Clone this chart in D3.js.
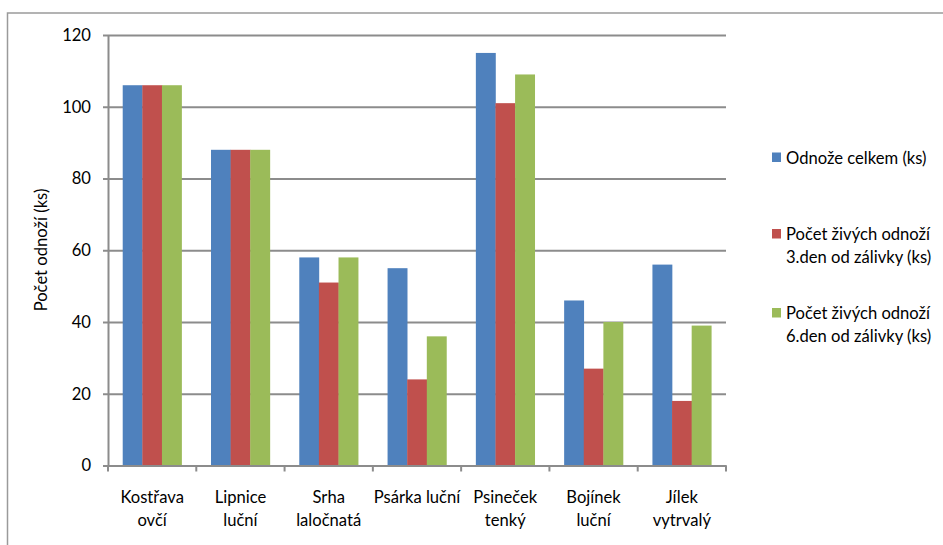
<!DOCTYPE html>
<html>
<head>
<meta charset="utf-8">
<script src="https://cdn.jsdelivr.net/npm/d3@7"></script>
<style>
  html, body { margin: 0; padding: 0; background: #fff; }
  svg { display: block; font-family: Lato, "Open Sans", sans-serif; }
</style>
</head>
<body>
<svg id="chart" width="943" height="545"></svg>
<script>
// ---- data ----
const categories = [
  ["Kostřava", "ovčí"],
  ["Lipnice", "luční"],
  ["Srha", "laločnatá"],
  ["Psárka luční"],
  ["Psineček", "tenký"],
  ["Bojínek", "luční"],
  ["Jílek", "vytrvalý"]
];
const seriesNames = [
  ["Odnože celkem (ks)"],
  ["Počet živých odnoží", "3.den od zálivky (ks)"],
  ["Počet živých odnoží", "6.den od zálivky (ks)"]
];
const odnozeCelkem = [106, 88, 58, 55, 115, 46, 56];
const zive3den     = [106, 88, 51, 24, 101, 27, 18];
const zive6den     = [106, 88, 58, 36, 109, 40, 39];
const yTicks = [0, 20, 40, 60, 80, 100, 120];
const yTitle = "Počet odnoží (ks)";
const colors = ["#4F81BD", "#C0504D", "#9BBB59"];

const seriesValues = [odnozeCelkem, zive3den, zive6den];
const FS = 16.6;

// ---- layout ----
const W = 943, H = 545;
const plot = { left: 108, right: 726, top: 35, bottom: 465.5 };
const svg = d3.select("#chart");
svg.append("rect").attr("width", W).attr("height", H).attr("fill", "#fff");

// outer chart border (cropped at right/bottom)
svg.append("rect")
  .attr("x", 7.5).attr("y", 13)
  .attr("width", 1000).attr("height", 600)
  .attr("fill", "none").attr("stroke", "#9a9a9a").attr("stroke-width", 1.5);

const catKeys = categories.map(c => c.join(" "));
const x = d3.scaleBand().domain(catKeys).range([plot.left, plot.right]).padding(0);
const bw = x.bandwidth();
const x1 = d3.scaleBand().domain(d3.range(seriesValues.length))
  .range([bw * 0.75 / 4.5, bw * 3.75 / 4.5]).padding(0);
const y = d3.scaleLinear().domain([0, 120]).range([plot.bottom, plot.top]);

const gridColor = "#8c8c8c";

// gridlines
const grid = svg.append("g").attr("transform", `translate(${plot.left},0)`)
  .call(d3.axisLeft(y).tickValues(yTicks.filter(v => v > 0)).tickSize(-(plot.right - plot.left)).tickFormat(""));
grid.select(".domain").remove();
grid.selectAll("line").attr("stroke", gridColor).attr("stroke-width", 2);

// bars
const rows = categories.map((c, i) => ({ key: catKeys[i], vals: seriesValues.map(s => s[i]) }));
svg.append("g").selectAll("g").data(rows).join("g")
  .attr("transform", d => `translate(${x(d.key)},0)`)
  .selectAll("rect").data(d => d.vals.map((v, j) => ({ v, j }))).join("rect")
  .attr("x", d => x1(d.j))
  .attr("width", x1.bandwidth() + 0.3)
  .attr("y", d => y(d.v))
  .attr("height", d => y(0) - y(d.v))
  .attr("fill", d => colors[d.j]);

// y axis
const yAxis = svg.append("g").attr("transform", `translate(${plot.left},0)`)
  .call(d3.axisLeft(y).tickValues(yTicks).tickSize(5).tickPadding(12).tickSizeOuter(0));
yAxis.select(".domain").attr("stroke", gridColor).attr("stroke-width", 2);
yAxis.selectAll(".tick line").attr("stroke", gridColor).attr("stroke-width", 2);
yAxis.selectAll(".tick text").attr("font-size", FS).attr("fill", "#000")
  .attr("font-family", "Lato, sans-serif");

// x axis line and boundary ticks
const xAxis = svg.append("g").attr("transform", `translate(0,${plot.bottom})`)
  .call(d3.axisBottom(x).tickSize(0).tickFormat(""));
xAxis.select(".domain").attr("stroke", gridColor).attr("stroke-width", 2);
const bounds = catKeys.map(k => x(k)).concat([x(catKeys[catKeys.length - 1]) + bw]);
xAxis.selectAll(".bound").data(bounds).join("line")
  .attr("class", "bound")
  .attr("x1", d => d).attr("x2", d => d)
  .attr("y1", 0).attr("y2", 6)
  .attr("stroke", gridColor).attr("stroke-width", 2);

// category labels
const lbl = svg.append("g").selectAll("text").data(rows).join("text")
  .attr("text-anchor", "middle")
  .attr("font-size", FS)
  .attr("fill", "#000");
lbl.each(function(d, i) {
  const t = d3.select(this);
  categories[i].forEach((line, k) => {
    t.append("tspan")
      .attr("x", x(d.key) + bw / 2)
      .attr("y", 503 + k * 23)
      .text(line);
  });
});

// y title
svg.append("text")
  .attr("transform", `translate(47,250) rotate(-90)`)
  .attr("text-anchor", "middle")
  .attr("font-size", FS)
  .attr("fill", "#000")
  .text(yTitle);

// legend
const legendY = [163.5, 240, 319];
const leg = svg.append("g");
seriesNames.forEach((lines, i) => {
  leg.append("rect")
    .attr("x", 772).attr("y", legendY[i] - 11)
    .attr("width", 9).attr("height", 9.5)
    .attr("fill", colors[i]);
  const t = leg.append("text").attr("font-size", FS).attr("fill", "#000");
  lines.forEach((line, k) => {
    t.append("tspan").attr("x", 786).attr("y", legendY[i] + k * 23).text(line);
  });
});
</script>
</body>
</html>
